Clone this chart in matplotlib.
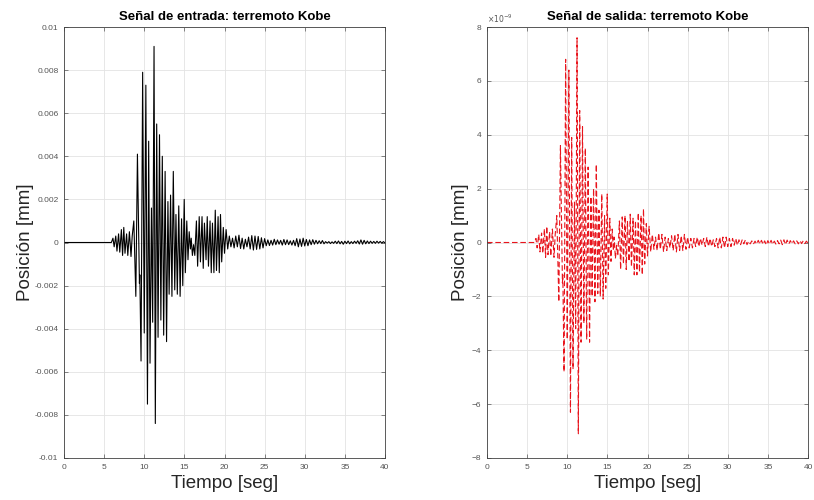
import numpy as np
import matplotlib
matplotlib.use('Agg')
import matplotlib.pyplot as plt

plt.rcParams['font.family'] = ['Liberation Sans', 'DejaVu Sans']

# Tiempos de los extremos durante el evento principal (seg)
t_evento = [0.0, 5.9, 6.1, 6.25, 6.45, 6.6, 6.8, 6.95, 7.15, 7.3, 7.45, 7.6, 7.8, 7.95,
            8.15, 8.35, 8.5, 8.7, 8.95, 9.15, 9.4, 9.45, 9.6, 9.8, 10.0, 10.2, 10.4,
            10.55, 10.72, 10.9, 11.05, 11.22, 11.38, 11.55, 11.72, 11.9, 12.07, 12.25,
            12.42, 12.6, 12.78, 12.95, 13.1, 13.28, 13.45, 13.62, 13.8, 13.95, 14.12,
            14.3, 14.47, 14.65, 14.8, 14.98, 15.12, 15.3, 15.45, 15.6, 15.75, 15.85,
            16.0, 16.15, 16.3, 16.5, 16.65, 16.85, 17.0, 17.2, 17.35, 17.5, 17.7, 17.85,
            18.0, 18.2, 18.35, 18.5, 18.68, 18.85, 19.0, 19.2, 19.35, 19.5, 19.65,
            19.85, 20.0, 20.2, 20.4, 20.6, 20.8, 21.0]

# Señal de entrada (mm)
entrada_evento = [0.0, 0.0, 0.0002, -0.0002, 0.0003, -0.0004, 0.0004, -0.00045, 0.0006,
                  -0.0006, 0.0007, -0.0005, 0.0004, -0.0006, 0.0005, -0.00065, 0.0003,
                  0.001, -0.0025, 0.0041, -0.0019, -0.0015, -0.0055, 0.0079, -0.0042,
                  0.0073, -0.0075, 0.0047, -0.0056, 0.0016, -0.0037, 0.0091, -0.0084,
                  0.0055, -0.0044, 0.005, -0.0036, 0.004, -0.0043, 0.0033, -0.0046,
                  0.0019, -0.0024, 0.0022, -0.0025, 0.0033, -0.0022, 0.0013, -0.0024,
                  0.0017, -0.0025, 0.0011, -0.002, 0.002, -0.0014, 0.001, -0.0008,
                  0.0005, -0.0003, 0.0002, -0.0006, -0.0001, -0.0006, 0.001, -0.0011,
                  0.0012, -0.0009, 0.0012, -0.0012, 0.0009, -0.0008, 0.0012, -0.0011,
                  0.001, -0.0014, 0.0009, -0.0014, 0.0015, -0.0013, 0.0012, -0.0014,
                  0.0013, -0.0009, 0.0007, -0.0005, 0.0006, -0.0003, 0.0003, -0.0002,
                  0.0002]

# Cola de la señal de entrada, 21.2 a 40 seg (x 1e-4 mm)
entrada_cola = [-2.5, 3.0, -2.0, 3.4, -2.8, 2.0, -3.0, 1.5, -2.0, 2.5, -3.0, 3.2, -3.5,
                3.0, -3.2, 2.8, -3.0, 2.2, -2.5, 1.8, -1.5, 1.2, -1.4, 1.0, -1.2, 1.5,
                -1.0, 1.2, -0.8, 1.0, -1.2, 1.4, -1.0, 1.2, -1.0, 0.8, -1.2, 1.0, -1.5,
                1.8, -2.0, 1.6, -1.8, 2.0, -1.6, 1.4, -1.5, 1.2, -1.0, 1.3, -0.8, 1.0,
                -0.6, 0.8, -0.5, 0.9, -0.6, 0.4, -0.3, 0.4, -0.5, 0.3, -0.4, 0.6, -0.5,
                0.7, -0.6, 0.5, -0.8, 0.6, -0.5, 0.7, -0.6, 0.4, -0.5, 0.6, -0.4, 0.8,
                -0.7, 1.2, -0.8, 1.0, -0.6, 0.7, -0.5, 0.6, -0.4, 0.5, -0.4, 0.6, -0.3,
                0.5, -0.3, 0.4, -0.2]

# Señal de salida (x 1e-9 mm)
salida_evento = [0.0, 0.0, 0.15, -0.2, 0.3, -0.35, 0.35, -0.4, 0.5, -0.55, 0.6, -0.45,
                 0.4, -0.5, 0.5, -0.55, 0.3, 1.0, -2.2, 3.6, -1.5, -1.2, -4.8, 6.8,
                 -3.6, 6.4, -6.3, 3.9, -4.7, 1.5, -3.2, 7.6, -7.1, 4.9, -3.7, 4.3, -3.0,
                 3.5, -3.6, 2.8, -3.7, 1.7, -2.0, 2.0, -2.2, 2.9, -1.9, 1.2, -2.0, 1.8,
                 -2.1, 1.0, -1.7, 1.8, -1.2, 0.9, -0.7, 0.5, -0.3, 0.2, -0.6, -0.1,
                 -0.5, 0.8, -1.0, 0.95, -0.8, 1.0, -1.0, 0.8, -0.7, 1.05, -0.9, 0.9,
                 -1.2, 0.8, -1.2, 1.1, -1.1, 1.0, -1.2, 1.25, -0.8, 0.7, -0.5, 0.6,
                 -0.35, 0.3, -0.25, 0.2]

salida_cola = [-0.3, 0.35, -0.25, 0.3, -0.35, 0.2, -0.3, 0.15, -0.2, 0.25, -0.3, 0.3,
               -0.35, 0.3, -0.3, 0.25, -0.3, 0.3, -0.25, 0.2, -0.2, 0.15, -0.2, 0.15,
               -0.15, 0.2, -0.15, 0.15, -0.1, 0.15, -0.15, 0.2, -0.15, 0.15, -0.15, 0.1,
               -0.15, 0.15, -0.2, 0.2, -0.2, 0.2, -0.2, 0.2, -0.15, 0.15, -0.15, 0.15,
               -0.1, 0.15, -0.1, 0.1, -0.08, 0.1, -0.05, 0.1, -0.08, 0.05, -0.05, 0.06,
               -0.06, 0.05, -0.06, 0.08, -0.06, 0.08, -0.07, 0.06, -0.09, 0.07, -0.06,
               0.08, -0.07, 0.05, -0.06, 0.07, -0.05, 0.09, -0.08, 0.1, -0.08, 0.09,
               -0.06, 0.07, -0.05, 0.06, -0.05, 0.06, -0.05, 0.07, -0.04, 0.06, -0.04,
               0.05, -0.03]

xticks = [0, 5, 10, 15, 20, 25, 30, 35, 40]
yticks_in = [-0.01, -0.008, -0.006, -0.004, -0.002, 0, 0.002, 0.004, 0.006, 0.008, 0.01]
yticklabels_in = ['-0.01', '-0.008', '-0.006', '-0.004', '-0.002', '0', '0.002', '0.004',
                  '0.006', '0.008', '0.01']
yticks_out = [-8, -6, -4, -2, 0, 2, 4, 6, 8]

# armar las series completas
t_in = np.concatenate([t_evento, np.linspace(21.2, 40.0, len(entrada_cola))])
y_in = np.concatenate([entrada_evento, np.array(entrada_cola) * 1e-4])
t_out = np.concatenate([t_evento, np.linspace(21.2, 40.0, len(salida_cola))])
y_out = np.concatenate([salida_evento, salida_cola])

fig = plt.figure(figsize=(8.14, 5.0), dpi=100)
ax1 = fig.add_axes([64 / 814, 42 / 500, 321 / 814, 431 / 500])
ax2 = fig.add_axes([487 / 814, 42 / 500, 321 / 814, 431 / 500])

ax1.plot(t_in, y_in, color='black', linewidth=0.8)
ax2.plot(t_out, y_out, color='#e8141c', linewidth=0.8, linestyle=(0, (5, 2.5)))

for ax in (ax1, ax2):
    ax.set_xlim(0, 40)
    ax.set_xticks(xticks)
    ax.grid(True, color='#e3e3e3', linewidth=0.6)
    ax.set_axisbelow(True)
    ax.tick_params(direction='in', length=3, width=0.5, labelsize=6,
                   colors='#555555', top=True, right=True, pad=4)
    for s in ax.spines.values():
        s.set_color('#404040')
        s.set_linewidth(0.6)
    ax.set_xlabel('Tiempo [seg]', fontsize=13.5, color='#262626', labelpad=3)

ax1.set_ylabel('Posición [mm]', fontsize=13.5, color='#262626', labelpad=0)
ax2.set_ylabel('Posición [mm]', fontsize=13.5, color='#262626', labelpad=2)

ax1.set_ylim(-0.01, 0.01)
ax1.set_yticks(yticks_in)
ax1.set_yticklabels(yticklabels_in)
ax1.set_title('Señal de entrada: terremoto Kobe', fontsize=9.5, fontweight='bold', pad=5)

ax2.set_ylim(-8, 8)
ax2.set_yticks(yticks_out)
ax2.set_title('Señal de salida: terremoto Kobe', fontsize=9.5, fontweight='bold', pad=5)
ax2.text(0.0, 1.005, r'$\times10^{-9}$', transform=ax2.transAxes, fontsize=5.5,
         color='#555555', ha='left', va='bottom')

fig.savefig('out.png', dpi=100, facecolor='white')
